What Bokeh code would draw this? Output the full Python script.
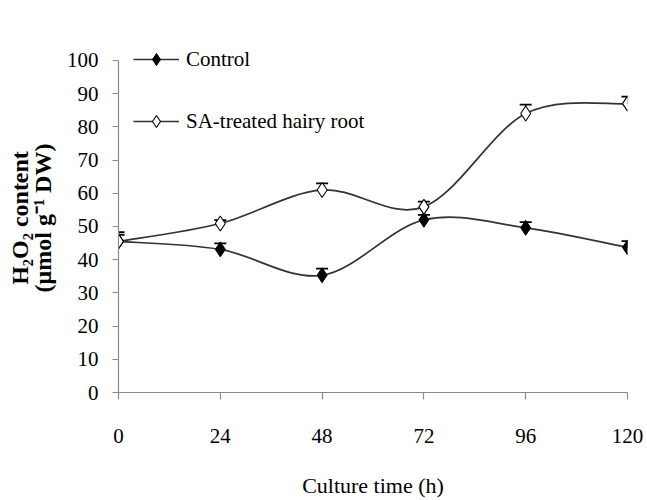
from bokeh.plotting import figure
from bokeh.models import ColumnDataSource, Legend, LegendItem, FixedTicker
from bokeh.embed import file_html
from bokeh.resources import INLINE

# ---- data ----
hours = [0, 24, 48, 72, 96, 120]
control = [45.5, 43.1, 35.3, 52.0, 49.6, 43.7]
control_err = [2.0, 1.8, 2.0, 1.5, 1.7, 1.9]
sa_treated = [45.5, 50.9, 61.0, 55.9, 84.0, 87.0]
sa_err = [2.8, 1.0, 2.0, 1.6, 2.7, 2.1]
x_ticks = [0, 24, 48, 72, 96, 120]
y_ticks = [0, 10, 20, 30, 40, 50, 60, 70, 80, 90, 100]

FONT = "Liberation Serif"
LINE_COLOR = "#333333"


def smooth_segments(xs, ys):
    """Excel-style smoothed-line Bezier control points derived from the data."""
    n = len(xs)
    x0, y0, x1, y1, cx0, cy0, cx1, cy1 = ([] for _ in range(8))
    for i in range(n - 1):
        ip = max(i - 1, 0)
        inx = min(i + 2, n - 1)
        x0.append(xs[i]); y0.append(ys[i])
        x1.append(xs[i + 1]); y1.append(ys[i + 1])
        cx0.append(xs[i] + (xs[i + 1] - xs[ip]) / 6.0)
        cy0.append(ys[i] + (ys[i + 1] - ys[ip]) / 6.0)
        cx1.append(xs[i + 1] - (xs[inx] - xs[i]) / 6.0)
        cy1.append(ys[i + 1] - (ys[inx] - ys[i]) / 6.0)
    return dict(x0=x0, y0=y0, x1=x1, y1=y1, cx0=cx0, cy0=cy0, cx1=cx1, cy1=cy1)


p = figure(width=645, height=500, output_backend="svg", toolbar_location=None,
           x_range=(0, 120), y_range=(0, 105.1),
           min_border_left=118, min_border_right=18,
           min_border_top=43, min_border_bottom=107)
p.outline_line_color = None
p.xgrid.visible = False
p.ygrid.visible = False
p.background_fill_color = "white"
p.border_fill_color = "white"

# curves
sa_curve = p.bezier(x0="x0", y0="y0", x1="x1", y1="y1", cx0="cx0", cy0="cy0",
                    cx1="cx1", cy1="cy1", source=ColumnDataSource(smooth_segments(hours, sa_treated)),
                    line_color=LINE_COLOR, line_width=1.7)
ct_curve = p.bezier(x0="x0", y0="y0", x1="x1", y1="y1", cx0="cx0", cy0="cy0",
                    cx1="cx1", cy1="cy1", source=ColumnDataSource(smooth_segments(hours, control)),
                    line_color=LINE_COLOR, line_width=1.7)

# error bars (upper only)
ct_top = [v + e for v, e in zip(control, control_err)]
sa_top = [v + e for v, e in zip(sa_treated, sa_err)]
p.segment(hours, control, hours, ct_top, line_color="black", line_width=1.3)
p.segment(hours, sa_treated, hours, sa_top, line_color="black", line_width=1.3)
p.scatter(hours, ct_top, marker="dash", size=12, line_color="black", line_width=1.8)
p.scatter(hours, sa_top, marker="dash", size=12, line_color="black", line_width=1.8)

# markers
ct_pts = p.scatter(hours, control, marker="diamond", size=15,
                   fill_color="black", line_color="black", line_width=1)
sa_pts = p.scatter(hours, sa_treated, marker="diamond", size=15,
                   fill_color="white", line_color="black", line_width=1.1)

# axes
p.xaxis.ticker = FixedTicker(ticks=x_ticks)
p.yaxis.ticker = FixedTicker(ticks=y_ticks)
p.yaxis.bounds = (0, 100)
for ax in (p.xaxis, p.yaxis):
    ax.axis_line_color = "#8a8a8a"
    ax.axis_line_width = 1.2
    ax.major_tick_line_color = "#8a8a8a"
    ax.major_tick_line_width = 1.2
    ax.minor_tick_line_color = None
    ax.major_tick_in = 0
    ax.major_label_text_font = FONT
    ax.major_label_text_font_size = "21px"
    ax.major_label_text_color = "black"
    ax.axis_label_text_font = FONT
    ax.axis_label_text_color = "black"

p.xaxis.major_tick_out = 7
p.xaxis.major_label_standoff = 29
p.xaxis.axis_label = "Culture time (h)"
p.xaxis.axis_label_text_font_size = "22px"
p.xaxis.axis_label_text_font_style = "normal"
p.xaxis.axis_label_standoff = 27

p.yaxis.major_tick_out = 6
p.yaxis.major_label_standoff = 14
p.yaxis.axis_label = "H\u2082O\u2082 content\n(\u03bcmol g\u207b\u00b9 DW)"
p.yaxis.axis_label_text_font_size = "24px"
p.yaxis.axis_label_text_font_style = "bold"
p.yaxis.axis_label_text_line_height = 0.88
p.yaxis.axis_label_standoff = 8

legend = Legend(items=[LegendItem(label="Control", renderers=[ct_curve, ct_pts]),
                       LegendItem(label="SA-treated hairy root", renderers=[sa_curve, sa_pts])],
                location=(15, 256), orientation="vertical")
legend.border_line_color = None
legend.background_fill_alpha = 0
legend.padding = 0
legend.margin = 0
legend.spacing = 32
legend.glyph_width = 46
legend.glyph_height = 30
legend.label_height = 30
legend.label_standoff = 7
legend.label_text_font = FONT
legend.label_text_font_size = "21px"
legend.label_text_color = "black"
p.add_layout(legend, "center")

open("out.html", "w").write(file_html(p, INLINE))
